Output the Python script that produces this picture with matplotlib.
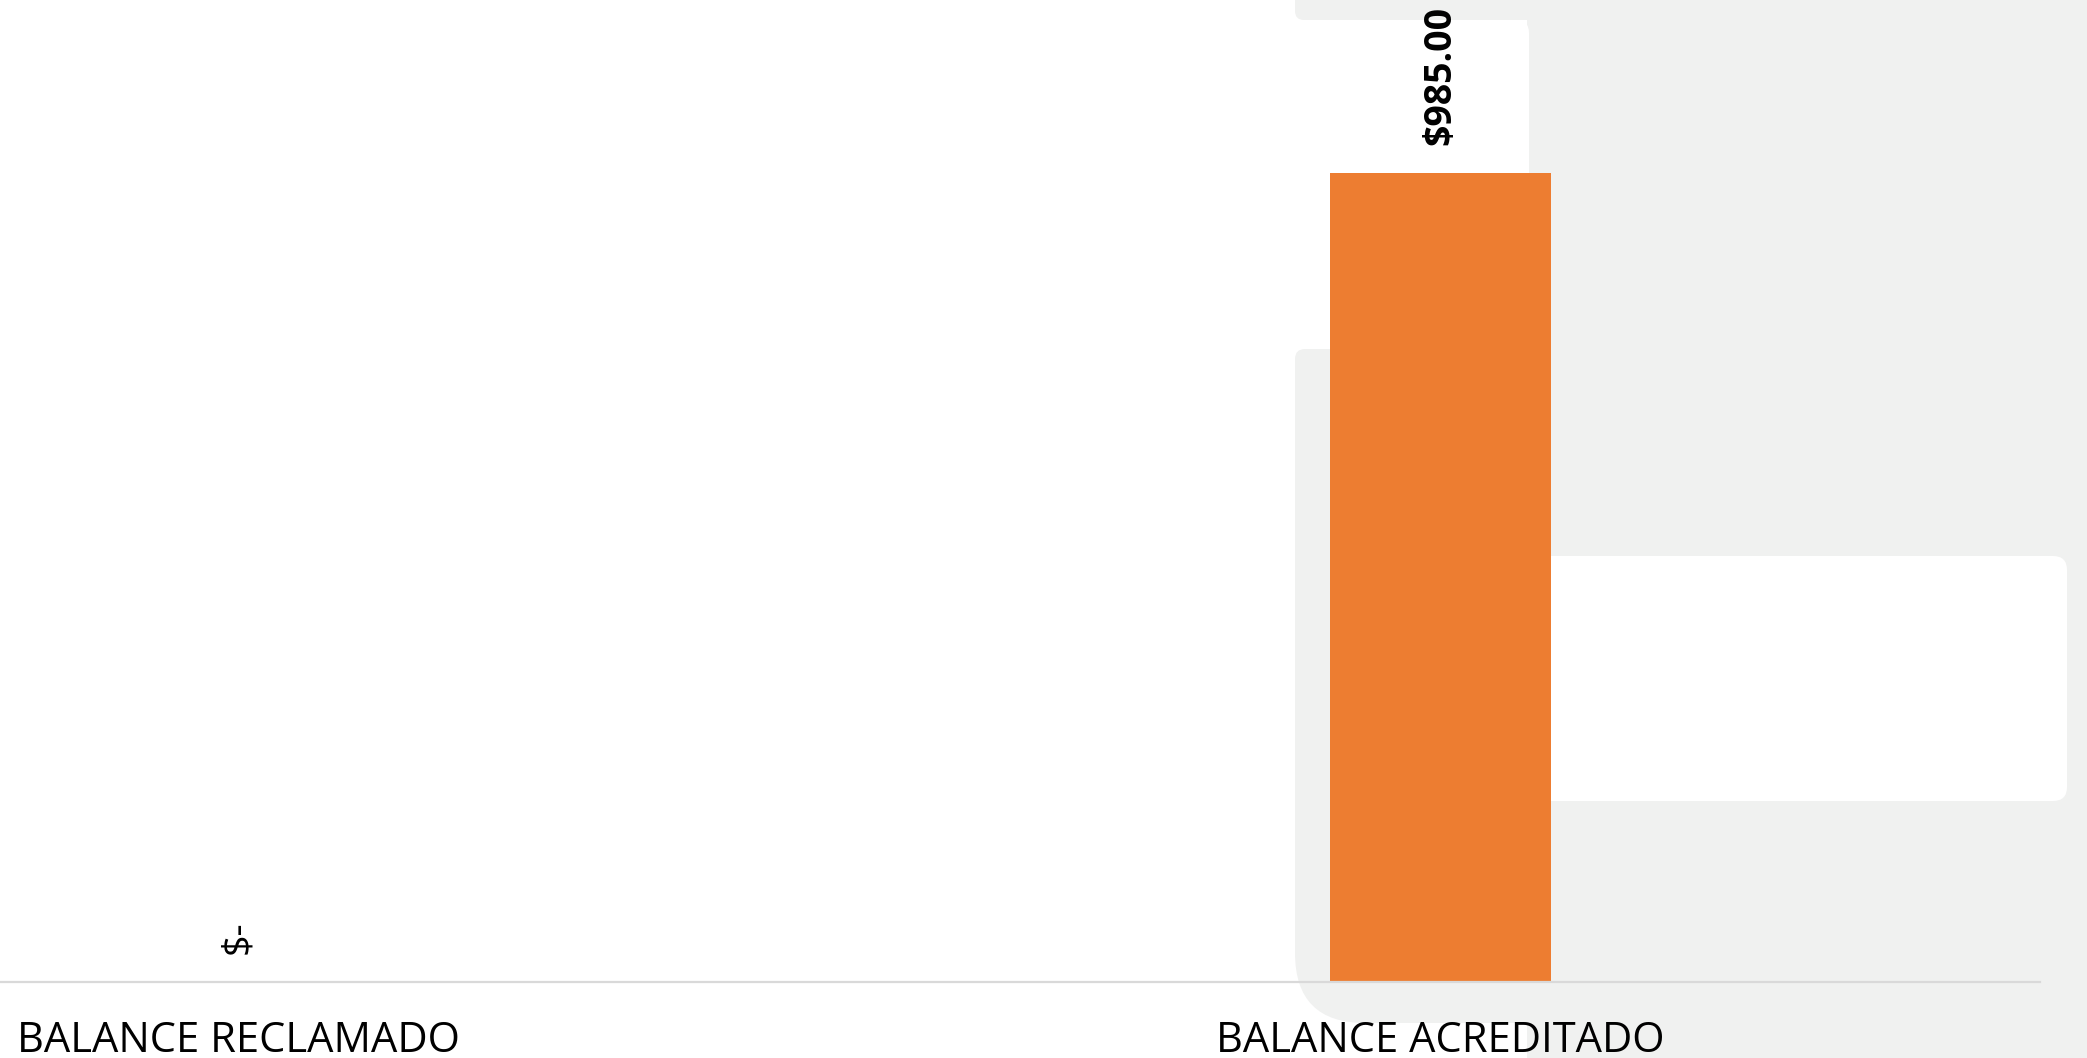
import matplotlib
matplotlib.use("Agg")
import matplotlib.pyplot as plt
from matplotlib.patches import FancyBboxPatch, Rectangle

categories = ["BALANCE RECLAMADO", "BALANCE ACREDITADO"]
values = [0, 985]
value_labels = ["$-", "$985.00"]
label_weights = ["normal", "bold"]

W, H = 2087, 1058
fig = plt.figure(figsize=(W / 100, H / 100), dpi=100, facecolor="white")
plt.rcParams["font.family"] = ["Open Sans", "DejaVu Sans"]

GRAY = "#f0f1f0"


def px_box(x0, y0, x1, y1, r, color, z):
    # background decoration in figure pixels (y measured from top)
    if r > 0:
        p = FancyBboxPatch((x0, H - y1), x1 - x0, y1 - y0,
                           boxstyle=f"round,pad=0,rounding_size={r}",
                           transform=None, facecolor=color, edgecolor="none", zorder=z)
    else:
        p = Rectangle((x0, H - y1), x1 - x0, y1 - y0, transform=None,
                      facecolor=color, edgecolor="none", zorder=z)
    fig.patches.append(p)


# background UI shapes
px_box(1295, -60, 2200, 20, 9, GRAY, -5)        # top strip
px_box(1527, -60, 2200, 1200, 0, GRAY, -5)      # right column
px_box(1295, 349, 1700, 900, 10, GRAY, -5)      # column top part
px_box(1295, 700, 1700, 1023, 70, GRAY, -5)     # column bottom part
px_box(1150, 20, 1529, 349, 13, "white", -4)    # card 1
px_box(1400, 556, 2067, 801, 14, "white", -4)   # card 2

ax = fig.add_axes([0, 1 - 982 / H, 2040 / W, 982 / H])
ax.set_facecolor("none")
ax.set_zorder(1)

x = list(range(len(categories)))
bars = ax.bar(x, values, width=0.184, color="#ED7D31", zorder=2)

for xi, v, lab, wgt in zip(x, values, value_labels, label_weights):
    ax.annotate(lab, (xi, v), xytext=(0, 20), textcoords="offset points",
                rotation=90, ha="center", va="bottom", fontsize=27,
                fontweight=wgt, color="black")

ax.set_xlim(-0.198, 1.499)
ax.set_ylim(0, 1195.6)
ax.set_xticks(x)
ax.set_xticklabels(categories, fontsize=30, color="black")
ax.tick_params(axis="x", length=0, pad=27)
ax.set_yticks([])
for s in ["top", "left", "right"]:
    ax.spines[s].set_visible(False)
ax.spines["bottom"].set_color("#d9d9d9")
ax.spines["bottom"].set_linewidth(1.6)

fig.savefig("out.png", dpi=100, facecolor="white")
